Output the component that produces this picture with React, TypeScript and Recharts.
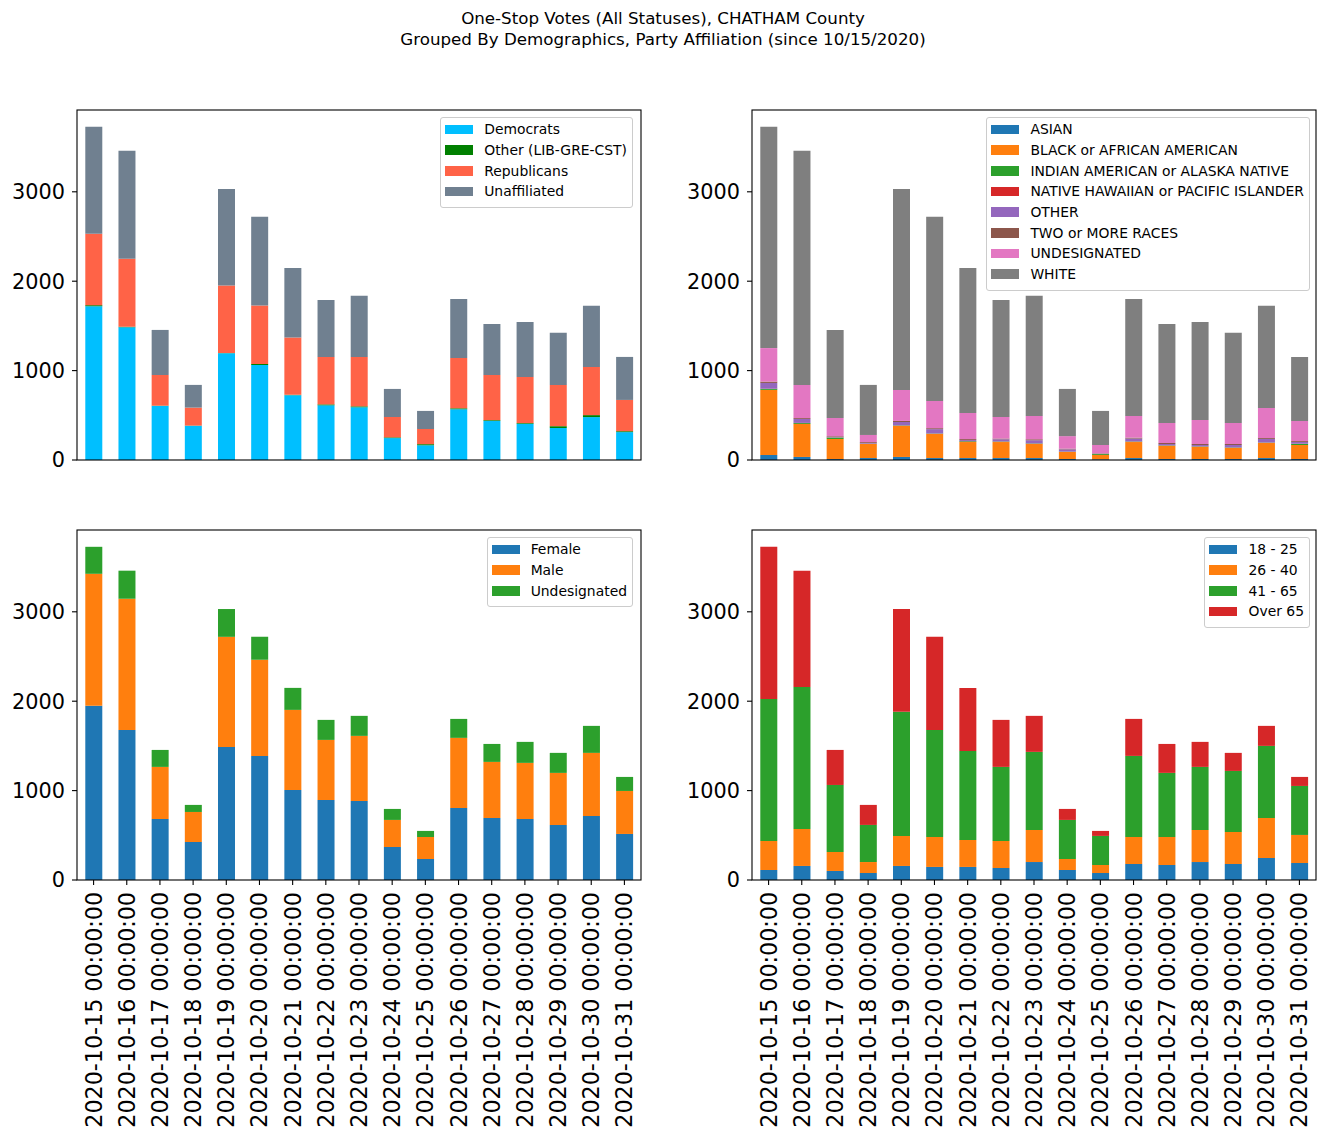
import React from 'react';
import { BarChart, Bar, XAxis, YAxis, Legend } from 'recharts';

const dates = [
  '2020-10-15 00:00:00', '2020-10-16 00:00:00', '2020-10-17 00:00:00', '2020-10-18 00:00:00',
  '2020-10-19 00:00:00', '2020-10-20 00:00:00', '2020-10-21 00:00:00', '2020-10-22 00:00:00',
  '2020-10-23 00:00:00', '2020-10-24 00:00:00', '2020-10-25 00:00:00', '2020-10-26 00:00:00',
  '2020-10-27 00:00:00', '2020-10-28 00:00:00', '2020-10-29 00:00:00', '2020-10-30 00:00:00',
  '2020-10-31 00:00:00',
];
const yTicks = [0, 1000, 2000, 3000];
const yMax = 3915;

// Party affiliation
const democrats = [1720, 1485, 605, 383, 1195, 1062, 725, 612, 590, 245, 165, 568, 438, 405, 358, 480, 312];
const otherParty = [12, 5, 3, 2, 3, 12, 4, 10, 10, 8, 12, 10, 8, 8, 20, 22, 10];
const republicans = [800, 760, 343, 201, 753, 654, 640, 531, 553, 228, 170, 564, 505, 516, 462, 539, 350];
const unaffiliated = [1195, 1210, 504, 254, 1080, 992, 780, 638, 683, 314, 202, 660, 571, 616, 582, 683, 481];

// Race
const asian = [56, 34, 11, 22, 34, 22, 22, 22, 22, 11, 8, 22, 11, 11, 11, 22, 11];
const black = [728, 369, 224, 157, 347, 269, 179, 179, 157, 79, 48, 179, 146, 135, 123, 168, 157];
const indian = [10, 10, 16, 3, 5, 4, 8, 5, 5, 3, 10, 5, 5, 5, 5, 4, 12];
const hawaiian = [3, 2, 2, 1, 2, 2, 2, 2, 2, 1, 1, 2, 2, 2, 2, 2, 2];
const otherRace = [65, 44, 5, 7, 37, 48, 12, 24, 35, 25, 3, 32, 15, 15, 27, 40, 20];
const twoOrMore = [15, 10, 8, 10, 12, 11, 11, 8, 11, 8, 5, 10, 11, 11, 11, 10, 10];
const undesignatedRace = [375, 370, 204, 80, 347, 304, 292, 241, 261, 140, 93, 243, 224, 269, 235, 336, 225];
const white = [2475, 2621, 985, 560, 2247, 2060, 1623, 1310, 1343, 528, 381, 1309, 1108, 1097, 1008, 1142, 716];

// Gender
const female = [1948, 1679, 683, 425, 1489, 1388, 1007, 896, 884, 369, 235, 806, 694, 683, 616, 716, 515];
const male = [1477, 1467, 582, 336, 1231, 1075, 896, 671, 728, 303, 246, 784, 627, 627, 582, 706, 481];
const undesignatedGender = [302, 314, 190, 79, 311, 257, 246, 224, 224, 123, 68, 212, 201, 235, 224, 302, 157];

// Age
const age18to25 = [112, 157, 101, 78, 157, 146, 146, 134, 201, 112, 78, 179, 168, 201, 179, 246, 190];
const age26to40 = [325, 414, 212, 123, 336, 335, 302, 303, 359, 123, 90, 302, 313, 359, 358, 448, 314];
const age41to65 = [1589, 1589, 750, 415, 1388, 1198, 996, 828, 873, 437, 325, 907, 717, 705, 683, 806, 548];
const over65 = [1701, 1300, 392, 224, 1150, 1041, 705, 526, 403, 123, 56, 414, 324, 280, 202, 224, 101];

type Series = { key: string; name: string; color: string; values: number[] };

const partySeries: Series[] = [
  { key: 'dem', name: 'Democrats', color: '#00BFFF', values: democrats },
  { key: 'oth', name: 'Other (LIB-GRE-CST)', color: '#008000', values: otherParty },
  { key: 'rep', name: 'Republicans', color: '#FF6347', values: republicans },
  { key: 'una', name: 'Unaffiliated', color: '#708090', values: unaffiliated },
];
const raceSeries: Series[] = [
  { key: 'asian', name: 'ASIAN', color: '#1f77b4', values: asian },
  { key: 'black', name: 'BLACK or AFRICAN AMERICAN', color: '#ff7f0e', values: black },
  { key: 'indian', name: 'INDIAN AMERICAN or ALASKA NATIVE', color: '#2ca02c', values: indian },
  { key: 'hawaii', name: 'NATIVE HAWAIIAN or PACIFIC ISLANDER', color: '#d62728', values: hawaiian },
  { key: 'other', name: 'OTHER', color: '#9467bd', values: otherRace },
  { key: 'two', name: 'TWO or MORE RACES', color: '#8c564b', values: twoOrMore },
  { key: 'undes', name: 'UNDESIGNATED', color: '#e377c2', values: undesignatedRace },
  { key: 'white', name: 'WHITE', color: '#7f7f7f', values: white },
];
const genderSeries: Series[] = [
  { key: 'f', name: 'Female', color: '#1f77b4', values: female },
  { key: 'm', name: 'Male', color: '#ff7f0e', values: male },
  { key: 'u', name: 'Undesignated', color: '#2ca02c', values: undesignatedGender },
];
const ageSeries: Series[] = [
  { key: 'a1', name: '18 - 25', color: '#1f77b4', values: age18to25 },
  { key: 'a2', name: '26 - 40', color: '#ff7f0e', values: age26to40 },
  { key: 'a3', name: '41 - 65', color: '#2ca02c', values: age41to65 },
  { key: 'a4', name: 'Over 65', color: '#d62728', values: over65 },
];

const FONT = 'DejaVu Sans';

const LegendBox = (props: any) => {
  const payload = props.payload || [];
  return (
    <div
      style={{
        display: 'inline-block',
        border: '1px solid #cccccc',
        borderRadius: 3,
        background: 'rgba(255,255,255,0.8)',
        padding: '1px 5px 5px 4px',
        fontFamily: FONT,
        fontSize: 13.9,
        color: '#000',
        whiteSpace: 'nowrap',
        textAlign: 'left',
      }}
    >
      {payload.map((p: any, i: number) => (
        <div key={i} style={{ display: 'flex', alignItems: 'center', height: 20.7 }}>
          <span style={{ display: 'inline-block', width: 28, height: 9.7, background: p.color, marginRight: 11 }} />
          <span>{p.value}</span>
        </div>
      ))}
    </div>
  );
};

const RotTick = (props: any) => {
  const { x, y, payload } = props;
  return (
    <text
      x={x}
      y={y}
      transform={`rotate(-90, ${x}, ${y})`}
      textAnchor="end"
      dominantBaseline="central"
      fontSize={22.2}
      fontFamily={FONT}
      fill="#000"
    >
      {payload.value}
    </text>
  );
};

type PanelProps = {
  left: number;
  top: number;
  width: number;
  height: number;
  yAxisWidth: number;
  marginRight: number;
  series: Series[];
  showX: boolean;
  legendRight: number;
};

function Panel({ left, top, width, height, yAxisWidth, marginRight, series, showX, legendRight }: PanelProps) {
  const data = dates.map((d, i) => {
    const row: any = { date: d };
    series.forEach((s) => {
      row[s.key] = s.values[i];
    });
    return row;
  });
  return (
    <div style={{ position: 'absolute', left, top }}>
      <BarChart
        width={width}
        height={height}
        data={data}
        margin={{ top: 10, right: marginRight, bottom: showX ? 0 : 20, left: 0 }}
        barCategoryGap="25%"
      >
        <XAxis
          dataKey="date"
          hide={!showX}
          interval={0}
          height={257}
          axisLine={false}
          tickLine={{ stroke: '#000', strokeWidth: 1.1 }}
          tickSize={5}
          tickMargin={7}
          tick={<RotTick />}
        />
        <YAxis
          width={yAxisWidth}
          domain={[0, yMax]}
          ticks={yTicks}
          interval={0}
          axisLine={false}
          tickLine={{ stroke: '#000', strokeWidth: 1.1 }}
          tickSize={5}
          tickMargin={7}
          tick={{ fontSize: 20.8, fill: '#000', fontFamily: FONT }}
        />
        <Legend
          layout="vertical"
          align="center"
          verticalAlign="middle"
          content={<LegendBox />}
          wrapperStyle={{ top: 17, right: legendRight, left: 'auto', bottom: 'auto', width: 'auto', height: 'auto' }}
        />
        {series.map((s) => (
          <Bar key={s.key} dataKey={s.key} name={s.name} stackId="a" fill={s.color} isAnimationActive={false} />
        ))}
      </BarChart>
    </div>
  );
}

export default function App() {
  return (
    <div
      style={{
        position: 'absolute',
        left: 0,
        top: 0,
        width: 1326,
        height: 1137,
        background: '#fff',
        overflow: 'hidden',
      }}
    >
      <svg style={{ position: 'absolute', left: 0, top: 0 }} width={1326} height={60}>
        <text x={663} y={18} textAnchor="middle" dominantBaseline="central" fontSize={16.7} fontFamily={FONT} fill="#000">
          One-Stop Votes (All Statuses), CHATHAM County
        </text>
        <text x={663} y={39} textAnchor="middle" dominantBaseline="central" fontSize={16.7} fontFamily={FONT} fill="#000">
          Grouped By Demographics, Party Affiliation (since 10/15/2020)
        </text>
      </svg>
      <Panel left={0} top={100} width={660} height={380} yAxisWidth={77} marginRight={19} series={partySeries} showX={false} legendRight={27} />
      <Panel left={670} top={100} width={656} height={380} yAxisWidth={82} marginRight={10} series={raceSeries} showX={false} legendRight={16} />
      <Panel left={0} top={520} width={660} height={617} yAxisWidth={77} marginRight={19} series={genderSeries} showX={true} legendRight={27} />
      <Panel left={670} top={520} width={656} height={617} yAxisWidth={82} marginRight={10} series={ageSeries} showX={true} legendRight={16} />
      <svg style={{ position: 'absolute', left: 0, top: 0, pointerEvents: 'none' }} width={1326} height={1137}>
        <rect x={77} y={110} width={564} height={350} fill="none" stroke="#000" strokeWidth={1.1} />
        <rect x={752} y={110} width={564} height={350} fill="none" stroke="#000" strokeWidth={1.1} />
        <rect x={77} y={530} width={564} height={350} fill="none" stroke="#000" strokeWidth={1.1} />
        <rect x={752} y={530} width={564} height={350} fill="none" stroke="#000" strokeWidth={1.1} />
      </svg>
    </div>
  );
}
